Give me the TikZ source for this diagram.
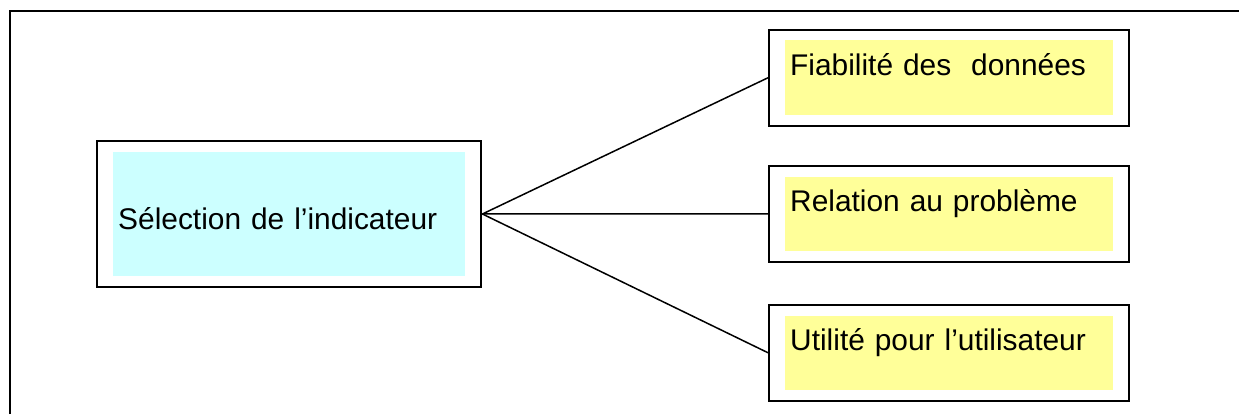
\documentclass[tikz,border=0pt]{standalone}
\usepackage{fontspec}
\setmainfont{Liberation Sans}
\usetikzlibrary{fit}
\definecolor{jaune}{HTML}{FFFF99}
\definecolor{cyanpale}{HTML}{CCFFFF}
\begin{document}
\begin{tikzpicture}[x=1bp,y=1bp,
  every node/.style={font=\fontsize{30}{36}\selectfont},
  fond/.style={inner xsep=5bp,inner ysep=0pt,align=left,anchor=base west},
  cadre/.style={draw,line width=2bp,inner xsep=16bp,inner ysep=10.5bp},
  lien/.style={line width=1.5bp}]
  \useasboundingbox (0,0) rectangle (1239,414);
  \draw[line width=2.5bp] (10,0) |- (1239,403);
  \node[fond,fill=cyanpale,text width=342bp,text height=77bp,text depth=47bp] (selfond) at (113,185) {Sélection de l’indicateur};
  \node[cadre,fit=(selfond)] (sel) {};
  \foreach[count=\i] \yy/\txt in {339/Fiabilité des\ \ données,203/Relation au problème,64/Utilité pour l’utilisateur} {
    \node[fond,fill=jaune,text width=318bp,text height=34.5bp,text depth=40bp] (fond\i) at (785,\yy) {\txt};
    \node[cadre,fit=(fond\i)] (crit\i) {};
    \draw[lien] (sel.east) -- (crit\i.west);
  }
\end{tikzpicture}
\end{document}
